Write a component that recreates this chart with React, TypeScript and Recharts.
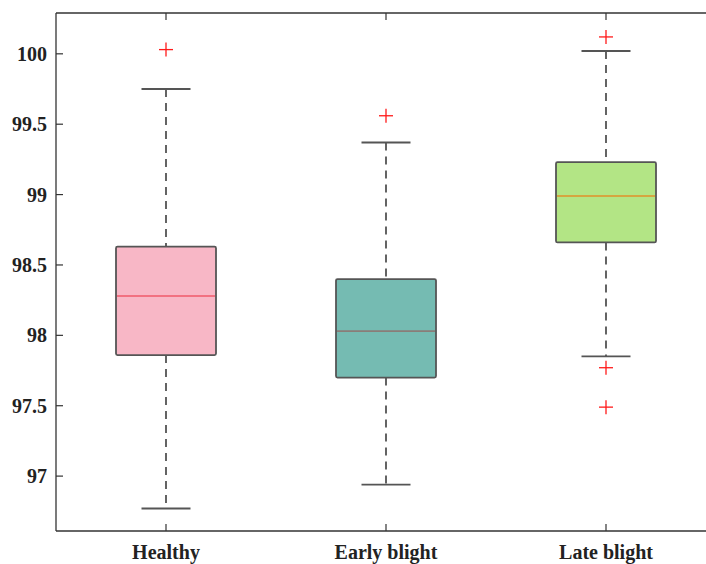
import React from 'react';
import { ComposedChart, Bar, Scatter, XAxis, YAxis } from 'recharts';

// box statistics
const categories = ['Healthy', 'Early blight', 'Late blight'];
const whiskerLow = [96.77, 96.94, 97.85];
const q1 = [97.86, 97.7, 98.66];
const median = [98.28, 98.03, 98.99];
const q3 = [98.63, 98.4, 99.23];
const whiskerHigh = [99.75, 99.37, 100.02];
const boxColors = ['#f8b7c6', '#75bbb2', '#b3e585'];
const medianColors = ['#f05a6a', '#8a7d78', '#e0902a'];

const outlierNames = ['Healthy', 'Early blight', 'Late blight', 'Late blight', 'Late blight'];
const outlierValues = [100.03, 99.56, 100.12, 97.77, 97.49];

const yTicks = [97, 97.5, 98, 98.5, 99, 99.5, 100];

const boxData = categories.map((name, i) => ({
  name,
  low: whiskerLow[i],
  q1: q1[i],
  median: median[i],
  q3: q3[i],
  high: whiskerHigh[i],
  fill: boxColors[i],
  medianColor: medianColors[i],
}));

const outlierData = outlierNames.map((name, i) => ({ name, value: outlierValues[i] }));

const font = '"Liberation Serif", "Times New Roman", serif';
const axisColor = '#333';

const BoxShape = (props: any) => {
  const { x, y, width, height, payload } = props;
  const cx = x + width / 2;
  const span = payload.high - payload.low;
  const toY = (v: number) => y + ((payload.high - v) / span) * height;
  const boxW = 100;
  const capW = 49;
  const yQ1 = toY(payload.q1);
  const yQ3 = toY(payload.q3);
  const yMed = toY(payload.median);
  const yLow = toY(payload.low);
  const yHigh = toY(payload.high);
  return (
    <g>
      <line x1={cx} x2={cx} y1={yHigh} y2={yQ3} stroke="#111" strokeWidth={1.3} strokeDasharray="8 6" />
      <line x1={cx} x2={cx} y1={yQ1} y2={yLow} stroke="#111" strokeWidth={1.3} strokeDasharray="8 6" />
      <line x1={cx - capW / 2} x2={cx + capW / 2} y1={yHigh} y2={yHigh} stroke="#555" strokeWidth={1.8} />
      <line x1={cx - capW / 2} x2={cx + capW / 2} y1={yLow} y2={yLow} stroke="#555" strokeWidth={1.8} />
      <rect
        x={cx - boxW / 2}
        y={yQ3}
        width={boxW}
        height={yQ1 - yQ3}
        rx={1.5}
        fill={payload.fill}
        stroke="#555"
        strokeWidth={1.8}
      />
      <line
        x1={cx - boxW / 2 + 1}
        x2={cx + boxW / 2 - 1}
        y1={yMed}
        y2={yMed}
        stroke={payload.medianColor}
        strokeWidth={1.6}
      />
    </g>
  );
};

const PlusShape = (props: any) => {
  const { cx, cy } = props;
  return (
    <g>
      <line x1={cx - 7} x2={cx + 7} y1={cy} y2={cy} stroke="#ff1a1a" strokeWidth={1.3} />
      <line x1={cx} x2={cx} y1={cy - 7} y2={cy + 7} stroke="#ff1a1a" strokeWidth={1.3} />
    </g>
  );
};

const YTick = (props: any) => {
  const { x, y, payload } = props;
  return (
    <g>
      <line x1={x} x2={x + 7} y1={y} y2={y} stroke={axisColor} strokeWidth={1.2} />
      <text x={x - 9} y={y} dy={7} textAnchor="end" fontFamily={font} fontWeight="bold" fontSize={20} fill="#222">
        {String(payload.value)}
      </text>
    </g>
  );
};

const BottomTick = (props: any) => {
  const { x, y, payload } = props;
  return (
    <g>
      <line x1={x} x2={x} y1={y} y2={y - 7} stroke={axisColor} strokeWidth={1.2} />
      <text x={x} y={y + 28} textAnchor="middle" fontFamily={font} fontWeight="bold" fontSize={20} fill="#222">
        {payload.value}
      </text>
    </g>
  );
};

const TopTick = (props: any) => {
  const { x, y } = props;
  return <line x1={x} x2={x} y1={y} y2={y + 7} stroke={axisColor} strokeWidth={1.2} />;
};

export default function App() {
  return (
    <div style={{ position: 'absolute', left: 0, top: 0, width: 706, height: 564, overflow: 'hidden', background: '#fff' }}>
      <ComposedChart
        width={720}
        height={564}
        data={boxData}
        margin={{ top: 12, right: 4, bottom: 0, left: 0 }}
        barCategoryGap={0}
      >
        <XAxis
          xAxisId="b"
          dataKey="name"
          type="category"
          allowDuplicatedCategory={false}
          orientation="bottom"
          height={33}
          tickSize={0}
          tickMargin={0}
          tickLine={false}
          axisLine={{ stroke: axisColor, strokeWidth: 1.3 }}
          tick={<BottomTick />}
          interval={0}
        />
        <XAxis
          xAxisId="t"
          dataKey="name"
          type="category"
          allowDuplicatedCategory={false}
          orientation="top"
          height={1}
          tickSize={0}
          tickMargin={0}
          tickLine={false}
          axisLine={{ stroke: axisColor, strokeWidth: 1.3 }}
          tick={<TopTick />}
          interval={0}
        />
        <YAxis
          type="number"
          domain={[96.61, 100.29]}
          ticks={yTicks}
          width={56}
          tickSize={0}
          tickMargin={0}
          tickLine={false}
          axisLine={{ stroke: axisColor, strokeWidth: 1.3 }}
          tick={<YTick />}
          allowDataOverflow
        />
        <Bar
          xAxisId="b"
          dataKey={(d: any) => [d.low, d.high]}
          shape={<BoxShape />}
          isAnimationActive={false}
        />
        <Scatter
          xAxisId="b"
          data={outlierData}
          dataKey="value"
          shape={<PlusShape />}
          isAnimationActive={false}
        />
      </ComposedChart>
    </div>
  );
}
